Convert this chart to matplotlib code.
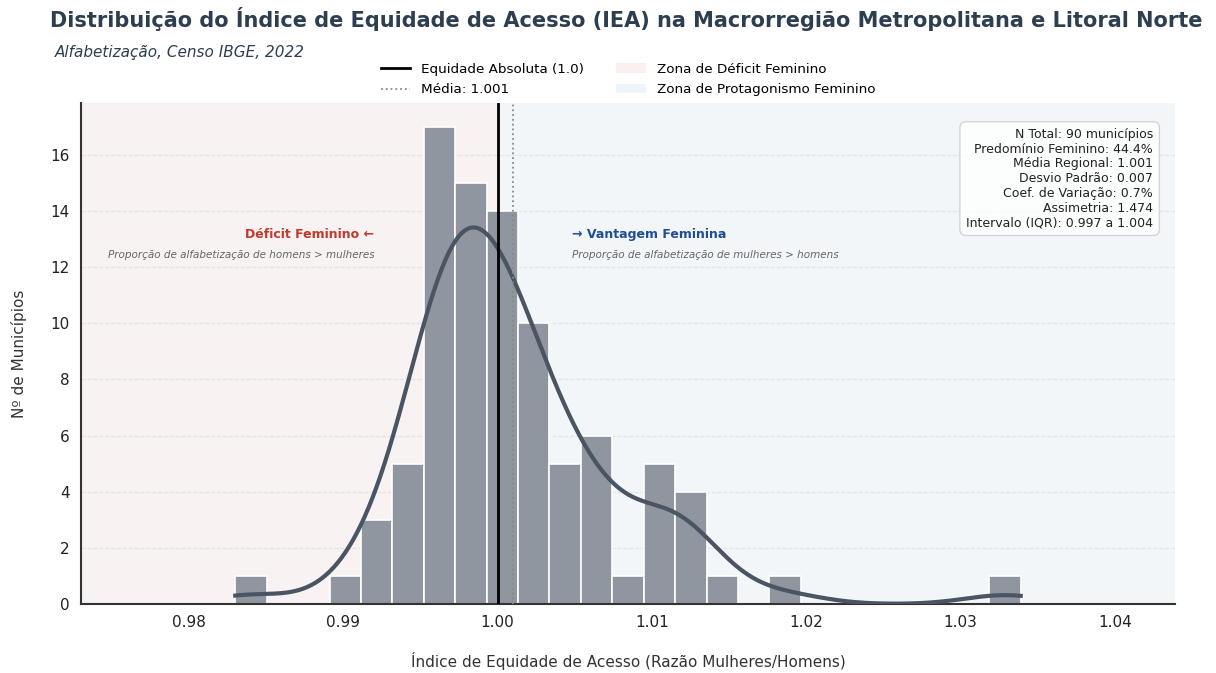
import numpy as np
import matplotlib
matplotlib.use("Agg")
import matplotlib.pyplot as plt
from matplotlib.lines import Line2D
from matplotlib.patches import Patch

# histogram data
bin_start = 0.9830
bin_end = 1.0339
n_bins = 25
counts = [1, 0, 0, 1, 3, 5, 17, 15, 14, 10, 5, 6, 1, 5, 4, 1, 0, 1, 0, 0, 0, 0, 0, 0, 1]
media = 1.001
stats_lines = [
    "N Total: 90 municípios",
    "Predomínio Feminino: 44.4%",
    "Média Regional: 1.001",
    "Desvio Padrão: 0.007",
    "Coef. de Variação: 0.7%",
    "Assimetria: 1.474",
    "Intervalo (IQR): 0.997 a 1.004",
]

edges = np.linspace(bin_start, bin_end, n_bins + 1)
width = edges[1] - edges[0]
centers = (edges[:-1] + edges[1:]) / 2
counts = np.array(counts, dtype=float)
n = counts.sum()

fig = plt.figure(figsize=(12.16, 6.73), dpi=100)
ax = fig.add_axes([0.0666, 0.1025, 0.8997, 0.7445])

xmin, xmax = bin_start - 0.01, bin_end + 0.01
ax.axvspan(xmin, 1.0, color='#f8f2f2', zorder=0)
ax.axvspan(1.0, xmax, color='#f3f6f9', zorder=0)

ax.bar(edges[:-1], counts, width=width, align='edge', color='#8f969f',
       edgecolor='white', linewidth=1.2, zorder=2)

# weighted gaussian kde (scott bandwidth), scaled to counts
mean_w = np.sum(centers * counts) / n
std_w = np.sqrt(np.sum(counts * (centers - mean_w) ** 2) / n)
h = 0.93 * std_w * n ** (-1 / 5)
xs = np.linspace(bin_start, bin_end, 400)
dens = np.sum(counts[:, None] * np.exp(-0.5 * ((xs[None, :] - centers[:, None]) / h) ** 2), axis=0)
dens = dens / (n * h * np.sqrt(2 * np.pi))
ax.plot(xs, dens * n * width, color='#4a5563', lw=3, zorder=3)

ax.axvline(1.0, color='black', lw=2, zorder=4)
ax.axvline(media, color='#888888', lw=1.3, ls=':', zorder=4)

ax.set_xlim(xmin, xmax)
ax.set_ylim(0, counts.max() * 1.05)
ax.set_xticks([0.98, 0.99, 1.00, 1.01, 1.02, 1.03, 1.04])
ax.set_xticklabels(['0.98', '0.99', '1.00', '1.01', '1.02', '1.03', '1.04'])
ax.set_yticks(range(0, 17, 2))
ax.tick_params(length=0, labelsize=11, colors='#222222', pad=8)
ax.grid(axis='y', ls='--', color='#dddddd', lw=0.8, alpha=0.7, zorder=1)
ax.set_axisbelow(True)
for s in ['top', 'right']:
    ax.spines[s].set_visible(False)
for s in ['left', 'bottom']:
    ax.spines[s].set_color('#333333')
    ax.spines[s].set_linewidth(1.5)

ax.set_xlabel('Índice de Equidade de Acesso (Razão Mulheres/Homens)', fontsize=11,
              color='#333333', labelpad=16)
ax.set_ylabel('Nº de Municípios', fontsize=11, color='#333333', labelpad=17)

ax.text(0.992, 13.15, 'Déficit Feminino ←', ha='right', va='center', fontsize=9,
        fontweight='bold', color='#c0392b')
ax.text(0.992, 12.45, 'Proporção de alfabetização de homens > mulheres', ha='right',
        va='center', fontsize=7.5, style='italic', color='#666666')
ax.text(1.0048, 13.15, '→ Vantagem Feminina', ha='left', va='center', fontsize=9,
        fontweight='bold', color='#1f4e96')
ax.text(1.0048, 12.45, 'Proporção de alfabetização de mulheres > homens', ha='left',
        va='center', fontsize=7.5, style='italic', color='#666666')

ax.text(0.98, 0.95, "\n".join(stats_lines), transform=ax.transAxes, ha='right', va='top',
        fontsize=9, color='#222222', linespacing=1.17,
        bbox=dict(boxstyle='round,pad=0.5', facecolor='white', edgecolor='#cccccc', alpha=0.8))

handles = [Line2D([0], [0], color='black', lw=2),
           Line2D([0], [0], color='#888888', lw=1.3, ls=':'),
           Patch(facecolor='#fbf0f0', edgecolor='none'),
           Patch(facecolor='#eff4fa', edgecolor='none')]
labels = ['Equidade Absoluta (1.0)', 'Média: 1.001',
          'Zona de Déficit Feminino', 'Zona de Protagonismo Feminino']
ax.legend(handles, labels, ncol=2, loc='lower center', bbox_to_anchor=(0.5, 1.0),
          frameon=False, fontsize=9.7, columnspacing=2.4, handlelength=2.2,
          labelspacing=0.55, borderaxespad=0.1)

fig.text(0.515, 0.972, 'Distribuição do Índice de Equidade de Acesso (IEA) na Macrorregião Metropolitana e Litoral Norte',
         ha='center', va='center', fontsize=15, fontweight='bold', color='#2c3e50')
fig.text(0.045, 0.922, 'Alfabetização, Censo IBGE, 2022', ha='left', va='center',
         fontsize=11, style='italic', color='#2c3e50')

fig.savefig('out.png', dpi=100)
